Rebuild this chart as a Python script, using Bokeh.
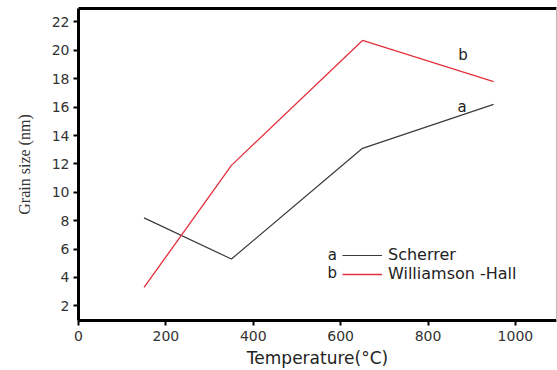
from bokeh.plotting import figure
from bokeh.models import Range1d, FixedTicker, LinearAxis, Legend, LegendItem
from bokeh.core.properties import value
from bokeh.embed import file_html
from bokeh.resources import INLINE

temperature = [150, 350, 650, 950]
scherrer = [8.2, 5.3, 13.1, 16.2]
williamson_hall = [3.3, 11.9, 20.7, 17.8]
x_ticks = [0, 200, 400, 600, 800, 1000]
y_ticks = [2, 4, 6, 8, 10, 12, 14, 16, 18, 20, 22]

FONT = "DejaVu Sans"

p = figure(width=557, height=370, output_backend="svg", toolbar_location=None,
           x_range=Range1d(0, 1094), y_range=Range1d(0.97, 22.95),
           min_border_left=78, min_border_right=1, min_border_top=8, min_border_bottom=50)
p.outline_line_color = None
p.grid.visible = False
p.background_fill_color = "white"

r_a = p.line(temperature, scherrer, line_color="#3a3a3a", line_width=1.2)
r_b = p.line(temperature, williamson_hall, line_color="#e4303c", line_width=1.3)

# curve tags
p.text(x=[880], y=[19.7], text=["b"], text_font=value(FONT), text_font_size="15px",
       text_color="#222222", text_align="center", text_baseline="middle")
p.text(x=[878], y=[16.0], text=["a"], text_font=value(FONT), text_font_size="15px",
       text_color="#222222", text_align="center", text_baseline="middle")

# legend letters
p.text(x=[581, 581], y=[5.6, 4.3], text=["a", "b"], text_font=value(FONT),
       text_font_size="15px", text_color="#222222", text_align="center", text_baseline="middle")

legend = Legend(items=[LegendItem(label="Scherrer", renderers=[r_a]),
                       LegendItem(label="Williamson -Hall", renderers=[r_b])],
                location=(264, 37), padding=0, margin=0, spacing=0,
                glyph_width=40, glyph_height=18, label_height=18, label_standoff=6,
                label_text_font=FONT, label_text_font_size="16px", label_text_color="#222222",
                border_line_color=None, background_fill_alpha=0)
p.add_layout(legend)

for ax in (p.xaxis[0], p.yaxis[0]):
    ax.axis_line_width = 3
    ax.axis_line_color = "black"
    ax.major_tick_line_width = 2
    ax.major_tick_line_color = "black"
    ax.major_tick_out = 5
    ax.major_tick_in = 0
    ax.minor_tick_line_color = None
    ax.major_label_text_font = FONT
    ax.major_label_text_font_size = "14px"
    ax.major_label_text_color = "#333333"

p.xaxis.ticker = FixedTicker(ticks=x_ticks)
p.yaxis.ticker = FixedTicker(ticks=y_ticks)
p.yaxis.major_label_standoff = 4
p.xaxis.axis_label = "Temperature(°C)"
p.xaxis.axis_label_text_font = FONT
p.xaxis.axis_label_text_font_size = "17px"
p.xaxis.axis_label_text_font_style = "normal"
p.xaxis.axis_label_text_color = "#222222"
p.xaxis.axis_label_standoff = 4
p.yaxis.axis_label = "Grain size (nm)"
p.yaxis.axis_label_text_font = "Liberation Serif"
p.yaxis.axis_label_text_font_size = "16px"
p.yaxis.axis_label_text_font_style = "normal"
p.yaxis.axis_label_text_color = "#333333"
p.yaxis.axis_label_standoff = 16

top = LinearAxis(ticker=FixedTicker(ticks=[]), major_label_text_font_size="0px",
                 axis_line_width=3, axis_line_color="black",
                 major_tick_line_color=None, minor_tick_line_color=None)
p.add_layout(top, "above")
right = LinearAxis(ticker=FixedTicker(ticks=[]), major_label_text_font_size="0px",
                   axis_line_width=1, axis_line_color="#bbbbbb",
                   major_tick_line_color=None, minor_tick_line_color=None)
p.add_layout(right, "right")

open("out.html", "w").write(file_html(p, INLINE))
